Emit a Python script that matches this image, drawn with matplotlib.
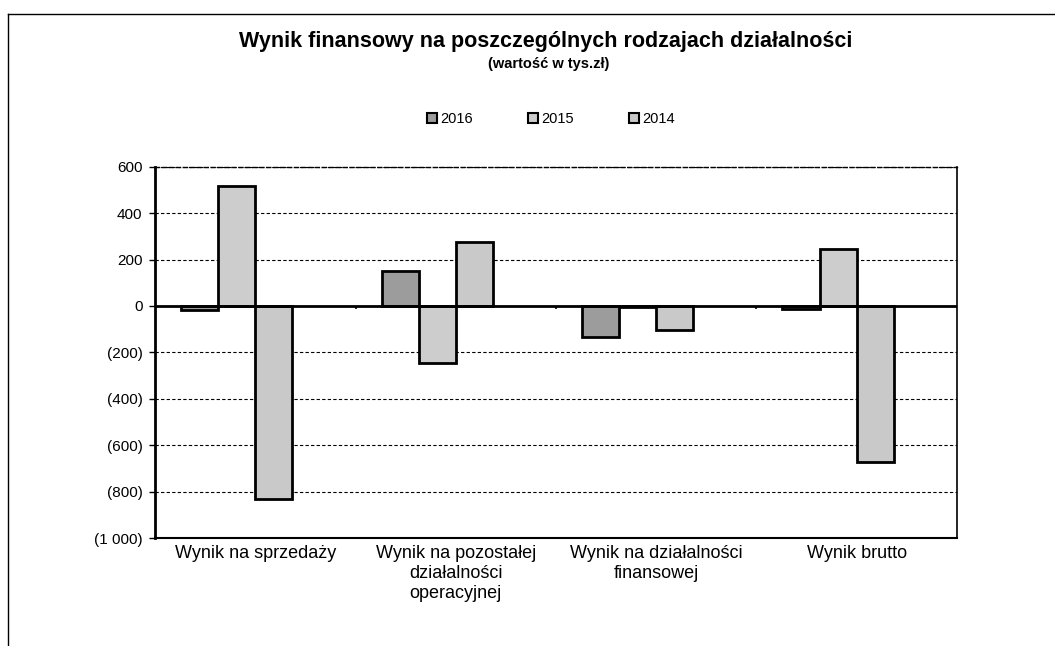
import numpy as np
import matplotlib
matplotlib.use("Agg")
from matplotlib import pyplot as plt
from matplotlib.lines import Line2D
from matplotlib.patches import Patch
from matplotlib.ticker import FuncFormatter

plt.rcParams['font.family'] = ['Liberation Sans', 'DejaVu Sans']

# dane z wykresu (tys. zł)
kategorie = ["Wynik na sprzedaży",
             "Wynik na pozostałej\ndziałalności\noperacyjnej",
             "Wynik na działalności\nfinansowej",
             "Wynik brutto"]
lata = ["2016", "2015", "2014"]
w2016 = [-18, 150, -135, -12]
w2015 = [515, -245, -5, 245]
w2014 = [-832, 275, -105, -670]
serie = [w2016, w2015, w2014]
kolory = ["#9c9c9c", "#cdcdcd", "#c9c9c9"]

fig = plt.figure(figsize=(10.55, 6.46), dpi=100)
ax = fig.add_axes([0.147, 0.167, 0.760, 0.575])

x = np.arange(len(kategorie))
szer = 0.185
# Excel zostawia miejsce na 4 serie, stąd przesunięcie grupy
for i, (rok, wart, kol) in enumerate(zip(lata, serie, kolory)):
    ax.bar(x + (i - 1.5) * szer, wart, szer, color=kol,
           edgecolor="black", linewidth=2, label=rok, zorder=3)

ax.set_xlim(-0.5, len(kategorie) - 0.5)
ax.set_ylim(-1000, 600)
ax.set_yticks(np.arange(-1000, 601, 200))


def fmt(v, pos):
    s = f"{abs(int(v)):,}".replace(",", " ")
    return f"({s})" if v < 0 else s


ax.yaxis.set_major_formatter(FuncFormatter(fmt))
ax.tick_params(axis="y", labelsize=11, length=4, width=1, pad=5)
ax.grid(axis="y", color="black", linestyle=(0, (3, 2)), linewidth=0.8, zorder=0)

# linia zera i znaczniki kategorii
ax.axhline(0, color="black", linewidth=2, zorder=4)
ax.vlines(x[:-1] + 0.5, -12, 0, color="black", linewidth=1.2, zorder=4)

ax.set_xticks(x)
ax.set_xticklabels(kategorie, fontsize=13, linespacing=1.23)
ax.tick_params(axis="x", length=0, pad=5)

ax.spines["left"].set_linewidth(2)
ax.spines["right"].set_linewidth(1.2)
ax.spines["top"].set_linestyle((0, (3, 2)))
ax.spines["top"].set_linewidth(1)
ax.spines["bottom"].set_linestyle((0, (1, 1)))
ax.spines["bottom"].set_linewidth(1.5)

fig.text(0.517, 1 - 42 / 646, "Wynik finansowy na poszczególnych rodzajach działalności",
         ha="center", va="center", fontsize=15.5, fontweight="bold")
fig.text(0.52, 1 - 64 / 646, "(wartość w tys.zł)",
         ha="center", va="center", fontsize=10.5, fontweight="bold")

uchwyty = [Patch(facecolor=k, edgecolor="black", linewidth=1.5) for k in kolory]
fig.legend(uchwyty, lata, loc="center", bbox_to_anchor=(0.522, 1 - 119 / 646),
           ncol=3, frameon=False, fontsize=10.5, handlelength=0.7, handleheight=0.7,
           handletextpad=0.2, columnspacing=3.8)

# ramka skanu
fig.add_artist(Line2D([8 / 1055, 8 / 1055], [0, 1 - 14 / 646], color="black", linewidth=1))
fig.add_artist(Line2D([8 / 1055, 1], [1 - 14 / 646, 1 - 14 / 646], color="black", linewidth=1))

fig.savefig("out.png", dpi=100)
